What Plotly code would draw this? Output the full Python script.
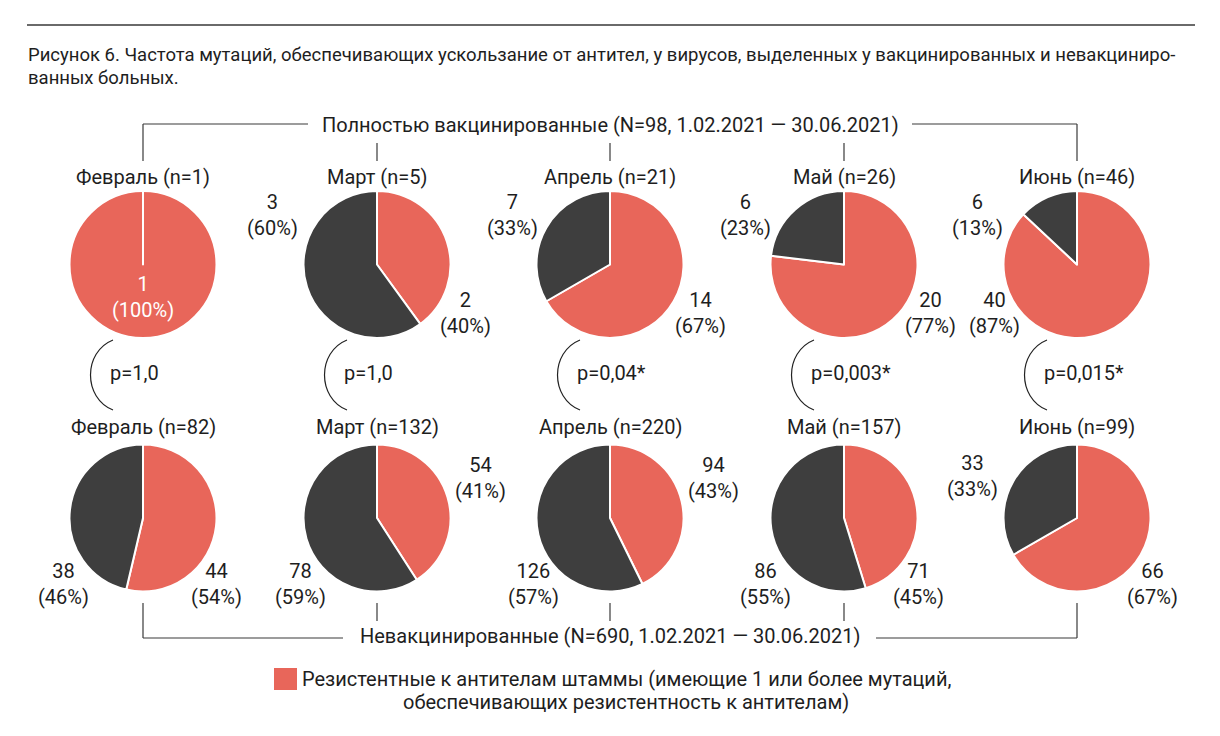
import plotly.graph_objects as go

# ---------------- data ----------------
months = ["Февраль", "Март", "Апрель", "Май", "Июнь"]
vac_resistant = [1, 2, 14, 20, 40]
vac_other = [0, 3, 7, 6, 6]
unvac_resistant = [44, 54, 94, 71, 66]
unvac_other = [38, 78, 126, 86, 33]
p_values = ["p=1,0", "p=1,0", "p=0,04*", "p=0,003*", "p=0,015*"]

caption_1 = "Рисунок 6. Частота мутаций, обеспечивающих ускользание от антител, у вирусов, выделенных у вакцинированных и невакциниро-"
caption_2 = "ванных больных."
header_vac = "Полностью вакцинированные (N=98, 1.02.2021 — 30.06.2021)"
header_unvac = "Невакцинированные (N=690, 1.02.2021 — 30.06.2021)"
legend_1 = "Резистентные к антителам штаммы (имеющие 1 или более мутаций,"
legend_2 = "обеспечивающих резистентность к антителам)"

# ---------------- layout / styling ----------------
W, H = 1220, 736
RED = "#E8665A"
DARK = "#3E3E3E"
TXT = "#1e1e1e"
LINE = "#3a3a3a"
FONT = "Roboto, 'Noto Sans', 'DejaVu Sans', sans-serif"
FS = 20

col_x = [143, 377, 610, 844, 1077]
row_y = [264.5, 518]
R = 73.5

# label offsets relative to pie centre (x, y of the count line); None = no label
vac_red_off = [(0, 22), (88, 38), (90, 38), (86, 38), (-83, 38)]
vac_dark_off = [None, (-105, -60), (-98, -60), (-99, -60), (-100, -60)]
unvac_red_off = [(73, 55), (103, -51), (103, -51), (74, 55), (75, 55)]
unvac_dark_off = [(-80, 55), (-77, 55), (-77, 55), (-79, 55), (-105, -53)]

fig = go.Figure()

# invisible trace to create a pixel-based coordinate system
fig.add_trace(go.Scatter(x=[0, W], y=[0, H], mode="markers", marker=dict(opacity=0),
                         hoverinfo="skip", showlegend=False))


def add_pie(cx, cy, red, dark):
    fig.add_trace(go.Pie(
        values=[red, dark],
        labels=["Резистентные", "Прочие"],
        sort=False, direction="clockwise", rotation=0,
        marker=dict(colors=[RED, DARK], line=dict(color="white", width=2)),
        textinfo="none", hoverinfo="label+value+percent", showlegend=False,
        domain=dict(x=[(cx - R) / W, (cx + R) / W], y=[1 - (cy + R) / H, 1 - (cy - R) / H]),
    ))


annotations = []
shapes = []


def text(x, y, s, size=FS, color=TXT, xanchor="center"):
    annotations.append(dict(x=x, y=y, xref="x", yref="y", text=s, showarrow=False,
                            xanchor=xanchor, yanchor="middle", borderpad=0,
                            font=dict(family=FONT, size=size, color=color)))


def line(x0, y0, x1, y1, color=LINE, width=1.2):
    shapes.append(dict(type="line", xref="x", yref="y", x0=x0, y0=y0, x1=x1, y1=y1,
                       line=dict(color=color, width=width)))


def count_label(cx, cy, off, n, total, color=TXT):
    if off is None:
        return
    pct = round(100 * n / total)
    text(cx + off[0], cy + off[1] + 10.5, f"{n}<br>({pct}%)", color=color)


for i, m in enumerate(months):
    cx = col_x[i]
    # vaccinated
    cy = row_y[0]
    tot = vac_resistant[i] + vac_other[i]
    add_pie(cx, cy, vac_resistant[i], vac_other[i])
    text(cx, 177, f"{m} (n={tot})")
    inside = vac_other[i] == 0
    count_label(cx, cy, vac_red_off[i], vac_resistant[i], tot, color="white" if inside else TXT)
    count_label(cx, cy, vac_dark_off[i], vac_other[i], tot)
    if inside:
        line(cx, cy - R, cx, cy, color="white", width=2)
    # unvaccinated
    cy = row_y[1]
    tot = unvac_resistant[i] + unvac_other[i]
    add_pie(cx, cy, unvac_resistant[i], unvac_other[i])
    text(cx, 427, f"{m} (n={tot})")
    count_label(cx, cy, unvac_red_off[i], unvac_resistant[i], tot)
    count_label(cx, cy, unvac_dark_off[i], unvac_other[i], tot)
    # p-value arc and label
    x0 = cx - 30
    shapes.append(dict(type="path", xref="x", yref="y",
                       path=f"M {x0},340 C {cx - 60},352 {cx - 60},398 {x0},410",
                       line=dict(color="#222", width=1.2)))
    text(cx - 34, 373, p_values[i], xanchor="left")

# top rule and caption
line(27, 25, 1195, 25, color="#6a6a6a", width=2)
text(27, 55, caption_1, size=18.5, xanchor="left")
text(27, 78, caption_2, size=18.5, xanchor="left")

# top bracket
text(610, 125, header_vac)
line(143, 124, 308, 124)
line(912, 124, 1077, 124)
line(143, 124, 143, 161)
line(1077, 124, 1077, 161)
for cx in col_x[1:4]:
    line(cx, 143, cx, 161)

# bottom bracket
text(610, 636, header_unvac)
line(143, 638, 343, 638)
line(876, 638, 1077, 638)
line(143, 603, 143, 638)
line(1077, 603, 1077, 638)
for cx in col_x[1:4]:
    line(cx, 603, cx, 621)

# legend
shapes.append(dict(type="rect", xref="x", yref="y", x0=274, y0=668, x1=297, y1=690,
                   fillcolor=RED, line=dict(width=0)))
text(626, 679, legend_1)
text(626, 702, legend_2)

fig.update_layout(
    width=W, height=H, margin=dict(l=0, r=0, t=0, b=0),
    paper_bgcolor="white", plot_bgcolor="white",
    xaxis=dict(range=[0, W], visible=False, domain=[0, 1], fixedrange=True),
    yaxis=dict(range=[H, 0], visible=False, domain=[0, 1], fixedrange=True),
    shapes=shapes, annotations=annotations, showlegend=False,
)

fig.write_html("out.html", config={"displayModeBar": False},
               post_script="document.body.style.margin='0';")
